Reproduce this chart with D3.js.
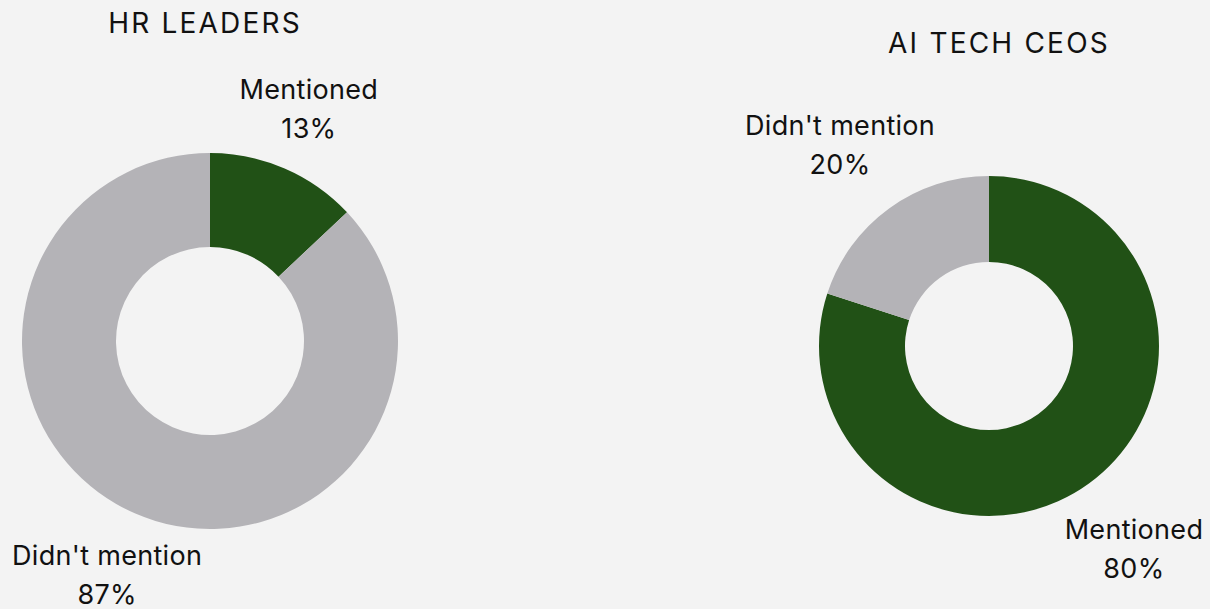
<!DOCTYPE html>
<html>
<head>
<meta charset="utf-8">
<script src="https://cdn.jsdelivr.net/npm/d3@7"></script>
<style>
  html, body { margin: 0; padding: 0; background: #f3f3f3; }
  svg { display: block; }
</style>
</head>
<body>
<div id="chart"></div>
<script>
const categories = ["Mentioned", "Didn't mention"];
const hrValues = [13, 87];
const ceoValues = [80, 20];
const titles = ["HR LEADERS", "AI TECH CEOS"];

const width = 1210, height = 609;
const color = d3.scaleOrdinal().domain(categories).range(["#215116", "#b4b3b7"]);

const svg = d3.select("#chart").append("svg")
  .attr("width", width)
  .attr("height", height);

svg.append("rect").attr("width", width).attr("height", height).attr("fill", "#f3f3f3");

// one donut per panel
const panels = [
  { title: titles[0], values: hrValues, cx: 210, cy: 341, outer: 188, inner: 94, labelR: 254, titleX: 205, titleY: 33 },
  { title: titles[1], values: ceoValues, cx: 989, cy: 346, outer: 170, inner: 84, labelR: 250, titleX: 999, titleY: 53 }
];

const pie = d3.pie().sort(null).value(d => d.value);

panels.forEach(p => {
  const data = categories.map((c, i) => ({ cat: c, value: p.values[i] }));
  const arcs = pie(data);
  const arc = d3.arc().innerRadius(p.inner).outerRadius(p.outer);
  const labelArc = d3.arc().innerRadius(p.labelR).outerRadius(p.labelR);

  const g = svg.append("g").attr("transform", `translate(${p.cx},${p.cy})`);

  g.selectAll("path")
    .data(arcs)
    .join("path")
      .attr("d", arc)
      .attr("fill", d => color(d.data.cat));

  const lbl = g.selectAll("text.lbl")
    .data(arcs)
    .join("text")
      .attr("class", "lbl")
      .attr("transform", d => {
        const [x, y] = labelArc.centroid(d);
        return `translate(${x - 2},${y - 5})`;
      })
      .attr("text-anchor", "middle")
      .style("font-family", "Inter, 'Noto Sans', sans-serif")
      .style("font-size", "27px")
      .style("letter-spacing", "0.3px")
      .style("fill", "#111");

  lbl.append("tspan").attr("x", 0).attr("dy", "-0.15em").text(d => d.data.cat);
  lbl.append("tspan").attr("x", 0).attr("dy", "1.45em").text(d => d.data.value + "%");

  svg.append("text")
    .attr("x", p.titleX)
    .attr("y", p.titleY)
    .attr("text-anchor", "middle")
    .style("font-family", "Inter, 'Noto Sans', sans-serif")
    .style("font-size", "28px")
    .style("letter-spacing", "2.2px")
    .style("fill", "#111")
    .text(p.title);
});
</script>
</body>
</html>
